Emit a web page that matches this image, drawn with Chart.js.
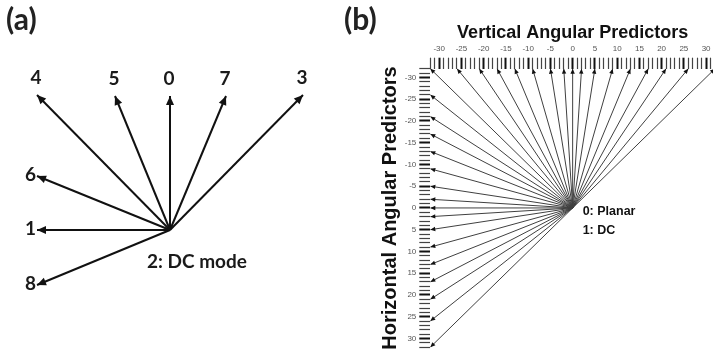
<!DOCTYPE html>
<html>
<head>
<meta charset="utf-8">
<script src="https://cdn.jsdelivr.net/npm/chart.js@4.4.1/dist/chart.umd.min.js"></script>
<style>
  html, body { margin: 0; padding: 0; background: #fff; overflow: hidden; }
  #wrap { position: relative; width: 713px; height: 355px; overflow: hidden; }
  .panel-label { position: absolute; font-family: Lato, sans-serif; font-weight: bold; font-size: 30px; line-height: 1; color: #222; }
  #chartA { position: absolute; left: 0; top: 0; }
  #chartB { position: absolute; left: 340px; top: 0; }
</style>
</head>
<body>
<div id="wrap">
  <canvas id="chartA" width="340" height="355"></canvas>
  <canvas id="chartB" width="380" height="355"></canvas>
  <div class="panel-label" style="left:6px; top:3px;">(a)</div>
  <div class="panel-label" style="left:344px; top:3px;">(b)</div>
</div>
<script>
// (a) directions des modes (pointe de chaque flèche, origine = DC)
const modeNames = ['4', '5', '0', '7', '3', '6', '1', '8'];
const modeTipX = [-133, -55, 0, 56, 133, -133, -133, -133];
const modeTipY = [135, 134, 134, 134, 135, 54, 0, -55];
const dcLabel = '2: DC mode';

// (b) déplacements angulaires
const vertDisp = [-32, -26, -21, -17, -13, -9, -5, -2, 0, 2, 5, 9, 13, 17, 21, 26, 32];
const horizDisp = [-26, -21, -17, -13, -9, -5, -2, 0, 2, 5, 9, 13, 17, 21, 26, 32];
const refEdge = -32;
const rulerLabels = [-30, -25, -20, -15, -10, -5, 0, 5, 10, 15, 20, 25, 30];
const centreLabels = ['0: Planar', '1: DC'];

// pointes de flèches sur le dernier point de chaque dataset
const arrowHeads = {
  id: 'arrowHeads',
  afterDatasetsDraw(chart, args, opts) {
    const ctx = chart.ctx;
    ctx.save();
    ctx.fillStyle = opts.color;
    chart.data.datasets.forEach((ds, i) => {
      const pts = chart.getDatasetMeta(i).data;
      const a = pts[0], b = pts[pts.length - 1];
      const ang = Math.atan2(b.y - a.y, b.x - a.x);
      ctx.save();
      ctx.translate(b.x, b.y);
      ctx.rotate(ang);
      ctx.beginPath();
      ctx.moveTo(0, 0);
      ctx.lineTo(-opts.len, -opts.half);
      ctx.lineTo(-opts.len, opts.half);
      ctx.closePath();
      ctx.fill();
      ctx.restore();
    });
    ctx.restore();
  }
};

const modeText = {
  id: 'modeText',
  afterDatasetsDraw(chart) {
    const {ctx, scales: {x, y}} = chart;
    ctx.save();
    ctx.fillStyle = '#1a1a1a';
    ctx.font = 'bold 19px Lato, sans-serif';
    ctx.textBaseline = 'middle';
    modeNames.forEach((name, i) => {
      const px = x.getPixelForValue(modeTipX[i]);
      const py = y.getPixelForValue(modeTipY[i]);
      if (Math.abs(modeTipY[i]) >= Math.abs(modeTipX[i])) {
        ctx.textAlign = 'center';
        ctx.fillText(name, px - 1, py - 17);
      } else {
        ctx.textAlign = 'right';
        ctx.fillText(name, px - 1, py - 1);
      }
    });
    ctx.textAlign = 'center';
    ctx.fillText(dcLabel, x.getPixelForValue(0) + 27, y.getPixelForValue(0) + 32);
    ctx.restore();
  }
};

const centreText = {
  id: 'centreText',
  afterDatasetsDraw(chart) {
    const {ctx, scales: {x, y}} = chart;
    const cx = x.getPixelForValue(0), cy = y.getPixelForValue(0);
    ctx.save();
    ctx.font = 'bold 12.5px "Liberation Sans", Arial, sans-serif';
    ctx.fillStyle = '#111';
    ctx.textAlign = 'left';
    ctx.textBaseline = 'middle';
    centreLabels.forEach((t, i) => ctx.fillText(t, cx + 10, cy + 4 + i * 19));
    ctx.restore();
  }
};

// Panneau (a)
new Chart(document.getElementById('chartA'), {
  type: 'scatter',
  data: {
    datasets: modeNames.map((n, i) => ({
      label: n,
      data: [{x: 0, y: 0}, {x: modeTipX[i], y: modeTipY[i]}],
      showLine: true,
      borderColor: '#111',
      borderWidth: 2,
      pointRadius: 0
    }))
  },
  options: {
    responsive: false,
    animation: false,
    layout: { padding: 0 },
    plugins: {
      legend: { display: false },
      tooltip: { enabled: false },
      arrowHeads: { len: 9, half: 4, color: '#111' }
    },
    scales: {
      x: { type: 'linear', display: false, min: -170, max: 170 },
      y: { type: 'linear', display: false, min: -125, max: 230 }
    }
  },
  plugins: [arrowHeads, modeText]
});

// Panneau (b)
const bEnds = vertDisp.map(d => [d, refEdge]).concat(horizDisp.map(d => [refEdge, d]));
const rulerGrid = {
  drawOnChartArea: false,
  drawTicks: true,
  tickLength: 11,
  tickWidth: c => (c.tick && c.tick.value % 5 === 0) ? 2 : 1.2,
  tickColor: c => (c.tick && c.tick.value % 5 === 0) ? '#111' : '#444'
};
const rulerTicks = {
  stepSize: 1,
  autoSkip: false,
  maxRotation: 0,
  minRotation: 0,
  color: '#555',
  font: { size: 8, family: '"Liberation Sans", Arial, sans-serif' },
  callback: v => rulerLabels.includes(v) ? String(v) : ''
};

new Chart(document.getElementById('chartB'), {
  type: 'scatter',
  data: {
    datasets: bEnds.map(([ex, ey]) => ({
      data: [{x: 0, y: 0}, {x: ex, y: ey}],
      showLine: true,
      borderColor: '#404040',
      borderWidth: 1,
      pointRadius: 0
    }))
  },
  options: {
    responsive: false,
    animation: false,
    layout: { padding: { left: 38, top: 22, right: 5, bottom: 6.7 } },
    plugins: {
      legend: { display: false },
      tooltip: { enabled: false },
      arrowHeads: { len: 5, half: 2.2, color: '#111' }
    },
    scales: {
      x: {
        type: 'linear', position: 'top', min: -32, max: 32,
        afterFit: s => { s.height = 46.7; },
        grid: rulerGrid,
        border: { display: false },
        ticks: Object.assign({}, rulerTicks, { padding: 4 }),
        title: {
          display: true, text: 'Vertical Angular Predictors', color: '#111', padding: 0,
          font: { size: 18, weight: 'bold', family: '"Liberation Sans", Arial, sans-serif' }
        }
      },
      y: {
        type: 'linear', position: 'left', reverse: true, min: -32, max: 32,
        afterFit: s => { s.width = 52.3; },
        grid: rulerGrid,
        border: { display: false },
        ticks: Object.assign({}, rulerTicks, { padding: 3 }),
        title: {
          display: true, text: 'Horizontal Angular Predictors', color: '#111', padding: 0,
          font: { size: 20, weight: 'bold', family: '"Liberation Sans", Arial, sans-serif' }
        }
      }
    }
  },
  plugins: [arrowHeads, centreText]
});
</script>
</body>
</html>
